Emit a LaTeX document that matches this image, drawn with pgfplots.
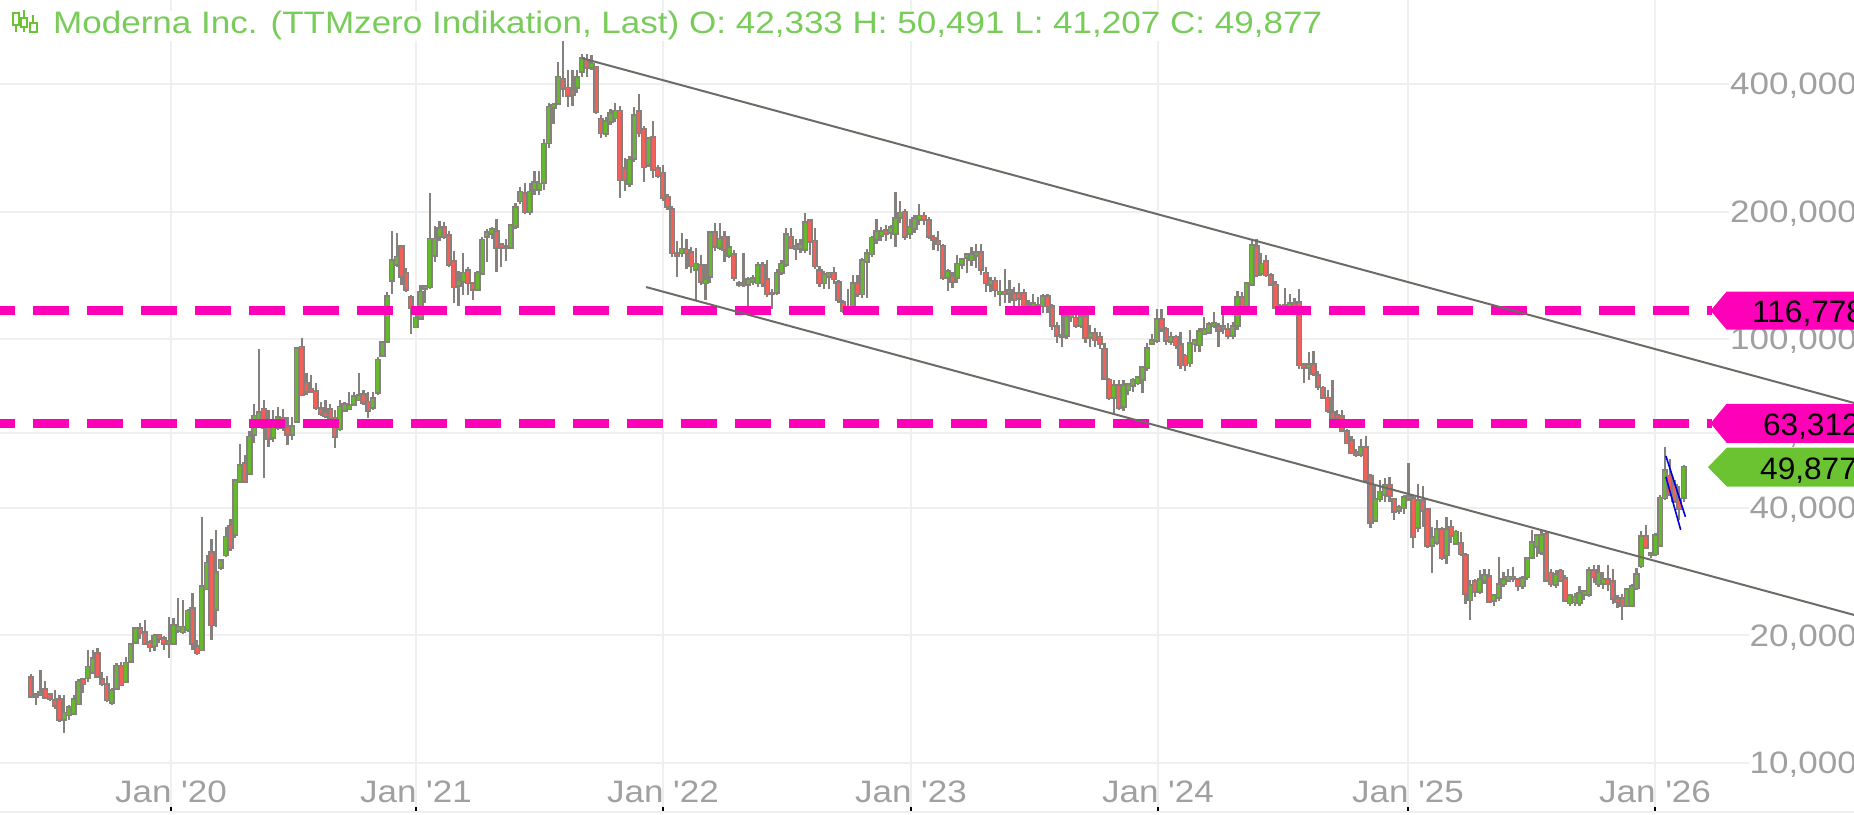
\documentclass[border=0pt]{standalone}
\usepackage{fontspec}
\setmainfont{Liberation Sans}
\newfontfamily\tf[FakeStretch=1.13]{Liberation Sans}
\newfontfamily\tagf[FakeStretch=1.02]{Liberation Sans}
\usepackage{pgfplots}
\usepackage{pgfplotstable}
\pgfplotsset{compat=1.18}
\definecolor{wick}{HTML}{86807C}
\definecolor{upc}{HTML}{66B92E}
\definecolor{dnc}{HTML}{F2605A}
\definecolor{pinkl}{HTML}{FF00B9}
\definecolor{greent}{HTML}{6CC332}
\definecolor{titlec}{HTML}{78CC5A}
\definecolor{trend}{HTML}{6E6A66}
\definecolor{gridc}{HTML}{EFEFEF}
\definecolor{labc}{HTML}{A0A0A0}
\pgfplotstableread{
o h l c
15.9 16.2 14.3 14.4
14.5 14.6 13.7 14.4
14.6 16.6 14.4 14.65
14.9 15.6 14.3 14.3
14.5 14.6 14.0 14.2
14.0 14.9 13.4 13.7
14.1 14.5 12.5 12.7
12.7 14.5 11.8 13.1
13.0 13.7 12.6 13.5
13.1 14.5 13.0 14.1
13.8 15.8 13.7 15.5
15.7 15.8 14.6 15.4
15.9 18.5 15.5 16.8
16.4 18.5 16.2 17.6
18.1 18.7 15.9 16.0
15.7 16.4 15.2 15.4
15.3 16.0 13.9 14.1
13.9 15.0 13.7 14.8
15.0 17.2 14.9 16.9
16.9 17.3 15.2 15.3
15.6 17.8 15.5 17.2
17.4 19.2 17.2 19.0
19.3 20.8 19.2 20.7
20.7 21.4 19.6 20.3
20.3 21.7 19.1 19.2
19.2 19.5 18.3 18.8
18.9 20.2 18.4 19.9
20.0 20.1 19.2 19.7
19.6 19.9 18.5 19.2
19.2 22.1 17.7 19.3
19.2 22.0 19.1 21.1
20.6 24.5 20.3 20.9
20.4 24.2 20.1 20.9
20.7 23.1 20.4 22.8
23.1 25.2 18.5 19.2
18.8 19.5 18.0 18.2
18.5 38.0 18.4 26.0
25.8 31.0 25.6 29.6
31.3 33.7 19.5 21.2
23.1 35.4 20.9 28.1
29.0 30.1 28.5 30.0
31.0 36.0 30.6 34.1
36.2 37.7 31.6 32.2
34.6 46.5 34.0 46.3
46.2 56.5 46.0 50.3
50.8 53.2 45.8 46.2
48.3 60.6 47.9 58.7
59.6 70.3 57.0 65.7
64.0 95.0 63.3 67.0
68.0 71.8 46.9 61.8
61.8 68.0 55.6 58.4
58.8 68.0 57.2 62.0
62.0 69.0 61.0 65.2
65.0 68.4 60.6 62.0
61.8 65.5 56.4 59.6
59.6 65.5 57.8 62.0
64.1 95.0 63.8 94.7
95.7 100.5 73.6 74.0
78.7 83.3 74.0 75.4
76.0 82.5 74.8 75.4
75.0 78.6 68.0 69.0
68.5 71.0 65.7 66.8
67.0 71.8 65.0 66.0
68.0 70.3 64.5 65.0
65.0 68.0 55.4 59.0
61.5 71.8 60.6 69.0
68.0 71.0 67.6 70.0
68.6 75.0 68.0 69.5
70.3 75.0 69.5 73.0
72.0 83.0 71.5 73.5
74.0 76.0 70.0 71.0
71.0 75.0 65.0 68.0
69.0 75.0 68.0 72.3
75.0 90.7 74.0 89.2
91.6 99.0 90.7 98.0
99.0 129 98.0 126
138 180 128 153
150 178 148 156
165 167 134 141
143 147 129 131
125 127 103 119
107 119 106 112
112 134 111 129
132 133.5 122 133
133 221 131 172
158 185 152 172
175 190 170 182
183 189 172 175
175 180 148 150
152 161 122 133
134 145 120 137
137 160 127 143
145 148 127 136
135 136 124 131
131 145 130 143
143 174 142 171
175 182 152 178
178 184 172 181
179 192 144 165
167 169 148 165
165 172 153 165
165 187 163 185
185 209 182 204
212 229 208 222
220 233 197 200
200 233 196 222
226 249 219 234
226 249 219 232
235 296 225 288
291 361 283 352
352 361 321 356
361 450 356 415
410 511 372 391
391 431 352 377
385 431 355 378
393 431 380 414
428 471 415 458
455 470 415 438
438 468 431 445
438 441 340 345
330 337 298 307
306 335 300 326
327 349 320 340
333 361 325 345
345 355 215 238
252 268 224 238
233 270 228 264
267 352 262 336
344 378 300 307
312 318 235 255
259 300 255 296
299 327 240 252
252 258 240 244
246 258 212 216
216 220 202 206
202 206 156 160
159 170 140 158
160 178 156 163
162 172 146 160
160 165 143 149
146 164 124 150
149 158 134 137
136 150 124 138
141 180 136 178
178 188 161 166
165 188 162 172
174 180 152 163
158 175 155 164
158 162 137 140
135 137 133 135
135 160 133 135
135 140 120 138
137 142 134 139
136 152 133 149
149 152 133 136
138 154 126 128
128 131 118 128
129 146 127 143
144 154 142 150
150 183 148 176
174 183 163 165
165 172 154 164
164 172 160 167
163 198 160 188
190 192 158 170
170 183 146 149
145 149 133 136
136 145 131 142
141 144 131 143
143 148 135 139
136 138 122 124
122 124 115 117
118 131 116 116.5
119 142 115 135
135 142 126 128
128 155 125 153
153 163 125 159
159 175 156 173
172 192 168 179
176 184 170 179
180 186 170 178
179 186 172 183
178 222 165 192
194 212 188 198
199 203 171 175
178 192 172 183
183 196 178 192
192 208 186 195
195 200 186 192
190 194 172 175
173 176 162 172
170 180 161 168
165 168 138 140
140 146 130 144
140 144 132 137
140 158 136 150
150 154 146 154
156 160 143 158
154 165 149 158
158 168 147 160
160 168 142 146
143 148 129 136
135 140 129 137
137 140 126 131
128 138 120 129
129 146 122 128
129 138 122 130
128 133 117 124
128 136 117 125
128 131 116 119
119 124 116 120
120 128 116 121
120 126 116 120
120 128 115 126
126 128 115 120
119 121 105 108
107 110 98 102
102 118 96 101.5
102 115 100 113
113 116 110 114
112 115 106 108
108 116 106 113
113 115 98 101
101 108 96 103
103 106 96 100
101 104 95 98
94.6 98 80 81
80 81 72 73
73 80 66.5 77.5
77.5 80 68 69.2
69.5 80 67.5 77.5
76 79 74 78
78 81 75 80
79 81 78 81
80.5 86 74.5 85.5
86 98 84 95
98 103 97 99
99.5 118 98 111
111 118 104 106
105 107 97 99.5
99 104 97 101
101 102 95 97
97 104 85 87
91 92 84 87
88 105 86 97.5
97.5 99.5 93 99
97 106 93 104
103 113 102 105
104 110 103 108
108 116 106 108.5
107 109 96 105
106 115 103 107
105 109 100 102
102 110 100 107
108 130 105 125
125 129 115 120
120 135 118 135
135 172 134 166
165 172 140 142
143 160 141 150
152 158 140 142
141 143 134 135
134 137 118 119
119 121 117 119.5
119.5 132 117.5 120
120 128 118 121
121 125 118 120.5
122 131 85 87
87 88 79 86
86 93 80 87
87 94 82 83
82 84 76 77.5
76.5 77.5 72.5 73
72.5 76 67 68
67 80 64 65
66 68 64 65.5
65.5 68 60.5 61
60.5 61.5 56.5 57
57.5 59 53.5 54
54 55 52.8 53.5
53.5 58 52.8 55.5
55.5 59 46 46.5
47.3 48 35.8 37
37.4 45.3 37 41.7
42 46.5 41.2 43.5
43 47 41.2 45
45 47.3 41.2 42.8
41.7 42.3 37.5 39.3
39.5 40.7 38.7 40
40 42.8 38.7 42.3
42.3 51 41.6 42.5
42 42.6 32.1 34.3
36 45.6 35 41.6
41.5 45 36 39.5
39.5 40 32.2 32.6
32.6 36 28.1 34
33.2 37.5 32.6 35.5
35.5 36 30.2 30.5
31 38 29.5 35.5
36 37.5 33 34.5
33 35.5 32.6 35
33 35 30.8 31.2
30.8 31.3 23.7 25.2
24.3 27.0 21.8 26.2
26.8 27.2 24.6 25.4
25.4 28.5 25 27
27 28.7 26.4 27.6
27.5 28.7 23.9 24.1
24.2 24.9 23.4 24.8
24.6 30.7 24.1 26.3
26.5 28.2 26 27
27 28.7 26.7 27.4
27.4 29 26.7 27.3
27 27.2 25.5 26.2
26.2 27.6 25.8 27.2
27.5 30.7 27 30.3
30.6 35.5 30.3 33.1
32.5 34.6 30.6 34.3
31.4 35.4 31 34.4
34.6 35 26.7 27
28 28.7 26 26.5
26.4 28.5 25.9 27.8
28.3 28.7 26.7 27
27.2 27.7 24 24.2
23.9 25 23.4 24.8
24 25.2 23.4 24.6
23.9 26.2 23.4 25.1
25 25.5 24.3 25.3
25 29 24.6 28.4
28.4 29.3 26.6 27.5
26.5 29.3 26 28
26.6 28.2 25.7 27
27 29.3 25.5 26.6
26.8 28.7 23.7 24.5
24.4 24.9 23.2 24
24.4 25 21.8 23.5
23.6 25.8 23.4 25.6
23.6 26.4 23.4 26
25.9 28.8 25.6 27.8
29.2 35.3 28.8 34.2
34.2 36.4 31.9 32.3
31 31.4 30.4 31.2
31.2 34.9 30.8 34.3
32.7 42.8 32.4 42.1
42.3 55.6 41.7 48.9
47.5 52 42.6 43
45 46.5 41 41.7
41.9 45 37.4 39.9
42.333 50.491 41.207 49.877
}\ohlc
\begin{document}
\begin{tikzpicture}[x=1pt,y=1pt]
\begin{axis}[
 set layers,
 at={(0pt,0pt)}, anchor=south west,
 scale only axis, width=1854pt, height=812pt,
 xmin=-6.526, xmax=383.79,
 ymode=log, ymin=7.663, ymax=631.2,
 axis line style={draw=none},
 xtick={29.47,81.05,133.05,185.26,237.26,289.9,341.9},
 xticklabels={Jan '20,Jan '21,Jan '22,Jan '23,Jan '24,Jan '25,Jan '26},
 ytick={10,20,40,60,100,200,400},
 yticklabels={{10,000},{20,000},{40,000},{60,000},{100,000},{200,000},{400,000}},
 minor y tick num=0,
 xmajorgrids, ymajorgrids,
 grid style={draw=gridc,line width=2pt},
 tick align=inside, major tick length=5pt,
 xtick style={draw=black,line width=2pt},
 ytick style={draw=none},
 xtick pos=lower, yticklabel pos=right,
 xticklabel style={anchor=base,yshift=10pt,font=\fontsize{31}{32}\selectfont\tf,text=labc},
 yticklabel style={anchor=east,xshift=4pt,yshift=-2pt,font=\fontsize{31}{32}\selectfont\tf,text=labc,fill=white,inner sep=1pt},
 clip=false,
]
% wicks
\addplot[draw=none,mark=none,forget plot,error bars/.cd,y dir=plus,y explicit,error mark=none,
 error bar style={draw=wick,line width=2.2pt,solid}]
 table[x expr=\coordindex,y=l,y error plus expr=\thisrow{h}-\thisrow{l}]{\ohlc};
% body outlines
\addplot[draw=none,mark=none,forget plot,error bars/.cd,y dir=plus,y explicit,error mark=none,
 error bar style={draw=wick,line width=6.2pt,solid}]
 table[x expr=\coordindex,y expr={min(\thisrow{o},\thisrow{c})*0.991},
 y error plus expr={max(\thisrow{o},\thisrow{c})*1.009-min(\thisrow{o},\thisrow{c})*0.991}]{\ohlc};
% rising bodies
\addplot[draw=none,mark=none,forget plot,restrict expr to domain={\thisrow{c}-\thisrow{o}}{0:10000},
 error bars/.cd,y dir=plus,y explicit,error mark=none,
 error bar style={draw=upc,line width=3pt,solid}]
 table[x expr=\coordindex,y=o,y error plus expr=\thisrow{c}-\thisrow{o}]{\ohlc};
% falling bodies
\addplot[draw=none,mark=none,forget plot,restrict expr to domain={\thisrow{o}-\thisrow{c}}{0.0001:10000},
 error bars/.cd,y dir=plus,y explicit,error mark=none,
 error bar style={draw=dnc,line width=3pt,solid}]
 table[x expr=\coordindex,y=c,y error plus expr=\thisrow{o}-\thisrow{c}]{\ohlc};
% horizontal levels
\addplot[pinkl,line width=9pt,dash pattern=on 36pt off 18pt,forget plot] coordinates {(-10.95,116.778)(353.9,116.778)};
\addplot[pinkl,line width=9pt,dash pattern=on 36pt off 18pt,forget plot] coordinates {(-10.95,63.312)(353.9,63.312)};
% trend lines
\addplot[trend,line width=2pt,forget plot] coordinates {(116,460)(383.8,70.7)};
\addplot[trend,line width=2pt,forget plot] coordinates {(129.5,132.7)(383.8,22.35)};
% blue flag
\addplot[blue!85!black,line width=1.6pt,forget plot] coordinates {(344.2,53)(348.3,38.1)};
\addplot[blue!85!black,line width=1.6pt,forget plot] coordinates {(344.2,47.3)(347.3,35.5)};
% value tags
\fill[pinkl] (axis cs:353.6,116.778) -- ++(16pt,19pt) -- ++(140pt,0pt) -- ++(0pt,-38pt) -- ++(-140pt,0pt) -- cycle;
\fill[pinkl] (axis cs:353.6,63.312) -- ++(16pt,19.5pt) -- ++(140pt,0pt) -- ++(0pt,-39pt) -- ++(-140pt,0pt) -- cycle;
\fill[greent] (axis cs:353.05,49.877) -- ++(19pt,19.5pt) -- ++(140pt,0pt) -- ++(0pt,-39pt) -- ++(-140pt,0pt) -- cycle;
\node[anchor=base west,inner sep=0pt,yshift=-12pt,font=\fontsize{31}{32}\selectfont\tagf] at (axis cs:362.3,116.778) {116,778};
\node[anchor=base west,inner sep=0pt,yshift=-12pt,font=\fontsize{31}{32}\selectfont\tagf] at (axis cs:364.6,63.312) {63,312};
\node[anchor=base west,inner sep=0pt,yshift=-12pt,font=\fontsize{31}{32}\selectfont\tagf] at (axis cs:364,49.877) {49,877};
\end{axis}
% bottom rule
\draw[draw=gridc,line width=2pt] (0pt,0pt) -- (1854pt,0pt);
% header icon
\begin{scope}[draw=greent,line width=2pt]
\draw (15.5pt,780pt) -- (15.5pt,787pt) (15.5pt,799pt) -- (15.5pt,800pt);
\draw (12.5pt,787pt) rectangle (18.7pt,799pt);
\draw (24pt,780pt) -- (24pt,785pt) (24pt,794pt) -- (24pt,802pt);
\draw (21pt,785pt) rectangle (27pt,794pt);
\draw (33.3pt,779pt) -- (33.3pt,780pt) (33.3pt,789pt) -- (33.3pt,797pt);
\draw (30pt,780pt) rectangle (36.6pt,789pt);
\end{scope}
\node[anchor=base west,inner sep=1pt,fill=white,text=titlec,font=\fontsize{31}{32}\selectfont\tf] at (52pt,778pt)
 {Moderna Inc. (TTMzero Indikation, Last) O: 42,333\ H: 50,491\ L: 41,207\ C: 49,877};
\pgfresetboundingbox
\useasboundingbox (0pt,-2pt) rectangle (1854pt,812pt);
\end{tikzpicture}
\end{document}
